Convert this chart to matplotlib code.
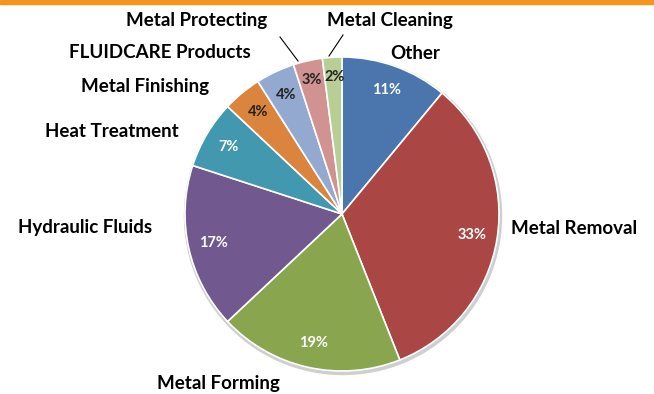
import matplotlib
matplotlib.use("Agg")
import matplotlib.pyplot as plt
from matplotlib.patches import Circle, Rectangle

categories = ["Other", "Metal Removal", "Metal Forming", "Hydraulic Fluids",
              "Heat Treatment", "Metal Finishing", "FLUIDCARE Products",
              "Metal Protecting", "Metal Cleaning"]
values = [11, 33, 19, 17, 7, 4, 4, 3, 2]
colors = ["#4A76AD", "#AA4643", "#89A54E", "#71588F", "#4198AF",
          "#DB843D", "#93A9CF", "#D19392", "#B9CD96"]
pct_colors = ["white", "white", "white", "white", "white",
              "#222222", "#222222", "#222222", "#222222"]

W, H = 654, 394
fig = plt.figure(figsize=(W / 100, H / 100), dpi=100)
ax = fig.add_axes([0, 0, 1, 1])

cx, cy, R = 342, H - 214, 157

# soft shadow
ax.add_patch(Circle((cx + 1, cy - 2), R + 1.5, color="#cfcfcf", zorder=0))

wedges, texts, autotexts = ax.pie(
    values, colors=colors, startangle=90, counterclock=False,
    center=(cx, cy), radius=R, autopct="%d%%", pctdistance=0.84,
    wedgeprops=dict(edgecolor="white", linewidth=1.2),
    textprops=dict(fontfamily="Lato", fontweight="bold", fontsize=10.5),
    frame=True)
ax.set_xlim(0, W)
ax.set_ylim(0, H)
ax.set_aspect("equal")
ax.axis("off")
for t, c in zip(autotexts, pct_colors):
    t.set_color(c)
x7, y7 = autotexts[7].get_position()
autotexts[7].set_position((x7 - 1, y7 + 5))
x8, y8 = autotexts[8].get_position()
autotexts[8].set_position((x8 + 1, y8 + 5))

# orange top rule
ax.add_patch(Rectangle((0, H - 3.5), W, 3.5, color="#F7941D", zorder=5, clip_on=False))

label_kw = dict(fontfamily="Lato", fontweight="bold", fontsize=13.5, color="black",
                ha="center", va="center")
label_pos = {
    "Other": (415, 53),
    "Metal Removal": (574, 228),
    "Metal Forming": (218, 383),
    "Hydraulic Fluids": (85, 227),
    "Heat Treatment": (112, 131),
    "Metal Finishing": (145, 86),
    "FLUIDCARE Products": (160, 52),
    "Metal Protecting": (197, 20),
    "Metal Cleaning": (390, 20),
}
for name in categories:
    x, y = label_pos[name]
    ax.text(x, H - y, name, **label_kw)

ax.plot([280, 298], [H - 37, H - 61], color="black", lw=0.8)
ax.plot([343, 329], [H - 35, H - 56], color="black", lw=0.8)

fig.savefig("out.png", dpi=100)
